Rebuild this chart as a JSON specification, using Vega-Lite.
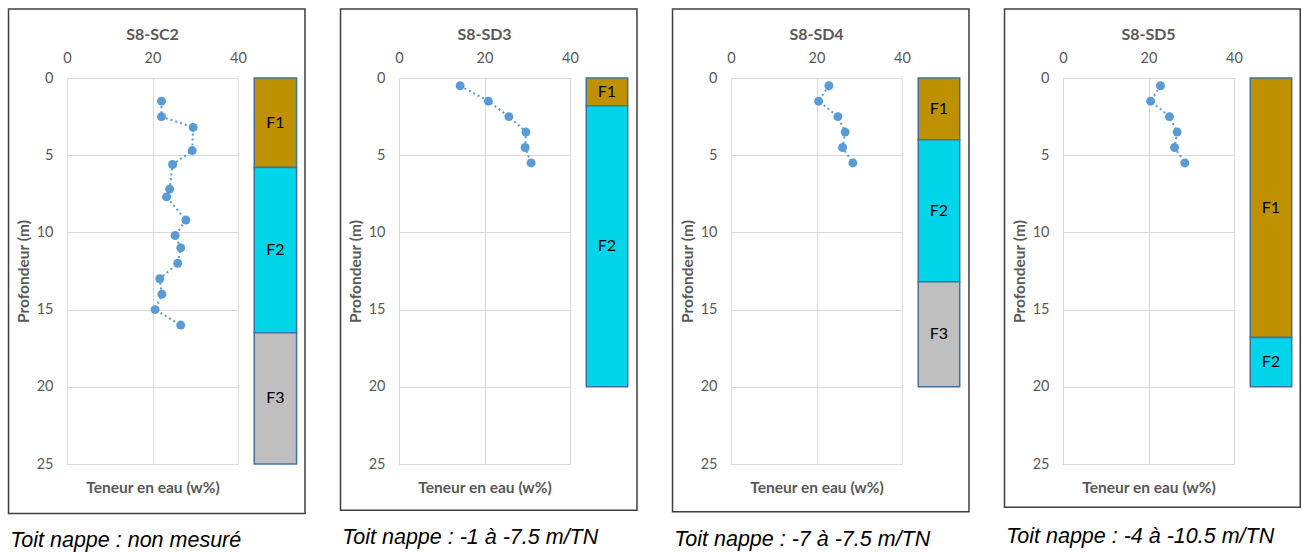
{
  "$schema": "https://vega.github.io/schema/vega-lite/v6.json",
  "autosize": {"type": "pad"},
  "padding": {"left": 7, "top": 7, "right": 0, "bottom": 0},
  "background": "white",
  "spacing": 32,
  "config": {
    "view": {"stroke": "#d9d9d9", "strokeWidth": 1},
    "font": "Lato",
    "axis": {
      "labelFont": "Lato", "labelFontSize": 14.5, "labelColor": "#595959",
      "titleFont": "Lato", "titleFontSize": 15.5, "titleFontWeight": "bold", "titleColor": "#595959",
      "gridColor": "#d9d9d9", "gridWidth": 1, "domain": false, "ticks": false, "labelFlush": false
    },
    "title": {"font": "Lato", "fontSize": 16, "fontWeight": "bold", "color": "#595959", "offset": 10, "dy": 45}
  },
  "datasets": {
    "pts": [
      {"hole": "S8-SC2", "depth": 1.5, "w": 22.1},
      {"hole": "S8-SC2", "depth": 2.5, "w": 22.1},
      {"hole": "S8-SC2", "depth": 3.2, "w": 29.5},
      {"hole": "S8-SC2", "depth": 4.7, "w": 29.3},
      {"hole": "S8-SC2", "depth": 5.6, "w": 24.7},
      {"hole": "S8-SC2", "depth": 7.2, "w": 24.0},
      {"hole": "S8-SC2", "depth": 7.7, "w": 23.3},
      {"hole": "S8-SC2", "depth": 9.2, "w": 27.8},
      {"hole": "S8-SC2", "depth": 10.2, "w": 25.3},
      {"hole": "S8-SC2", "depth": 11.0, "w": 26.6},
      {"hole": "S8-SC2", "depth": 12.0, "w": 25.9},
      {"hole": "S8-SC2", "depth": 13.0, "w": 21.7},
      {"hole": "S8-SC2", "depth": 14.0, "w": 22.2},
      {"hole": "S8-SC2", "depth": 15.0, "w": 20.6},
      {"hole": "S8-SC2", "depth": 16.0, "w": 26.6},
      {"hole": "S8-SD3", "depth": 0.5, "w": 14.3},
      {"hole": "S8-SD3", "depth": 1.5, "w": 20.9},
      {"hole": "S8-SD3", "depth": 2.5, "w": 25.7},
      {"hole": "S8-SD3", "depth": 3.5, "w": 29.7},
      {"hole": "S8-SD3", "depth": 4.5, "w": 29.5},
      {"hole": "S8-SD3", "depth": 5.5, "w": 30.9},
      {"hole": "S8-SD4", "depth": 0.5, "w": 22.9},
      {"hole": "S8-SD4", "depth": 1.5, "w": 20.5},
      {"hole": "S8-SD4", "depth": 2.5, "w": 25.0},
      {"hole": "S8-SD4", "depth": 3.5, "w": 26.7},
      {"hole": "S8-SD4", "depth": 4.5, "w": 26.1},
      {"hole": "S8-SD4", "depth": 5.5, "w": 28.5},
      {"hole": "S8-SD5", "depth": 0.5, "w": 22.8},
      {"hole": "S8-SD5", "depth": 1.5, "w": 20.5},
      {"hole": "S8-SD5", "depth": 2.5, "w": 24.9},
      {"hole": "S8-SD5", "depth": 3.5, "w": 26.7},
      {"hole": "S8-SD5", "depth": 4.5, "w": 26.1},
      {"hole": "S8-SD5", "depth": 5.5, "w": 28.5}
    ],
    "strata": [
      {"hole": "S8-SC2", "layer": "F1", "top": 0, "bottom": 5.8},
      {"hole": "S8-SC2", "layer": "F2", "top": 5.8, "bottom": 16.5},
      {"hole": "S8-SC2", "layer": "F3", "top": 16.5, "bottom": 25},
      {"hole": "S8-SD3", "layer": "F1", "top": 0, "bottom": 1.8},
      {"hole": "S8-SD3", "layer": "F2", "top": 1.8, "bottom": 20},
      {"hole": "S8-SD4", "layer": "F1", "top": 0, "bottom": 4.0},
      {"hole": "S8-SD4", "layer": "F2", "top": 4.0, "bottom": 13.2},
      {"hole": "S8-SD4", "layer": "F3", "top": 13.2, "bottom": 20},
      {"hole": "S8-SD5", "layer": "F1", "top": 0, "bottom": 16.8},
      {"hole": "S8-SD5", "layer": "F2", "top": 16.8, "bottom": 20}
    ],
    "captions": [
      {"hole": "S8-SC2", "caption": "Toit nappe : non mesuré"},
      {"hole": "S8-SD3", "caption": "Toit nappe : -1 à -7.5 m/TN"},
      {"hole": "S8-SD4", "caption": "Toit nappe : -7 à -7.5 m/TN"},
      {"hole": "S8-SD5", "caption": "Toit nappe : -4 à -10.5 m/TN"}
    ]
  },
  "hconcat": [
    {
      "width": 171, "height": 386,
      "title": {"text": "S8-SC2"},
      "resolve": {"axis": {"x": "independent", "y": "independent"}},
      "layer": [
        {
          "data": {"name": "captions"},
          "transform": [{"filter": "datum.hole === 'S8-SC2'"}],
          "mark": {"type": "rect", "filled": false, "stroke": "#3f3f3f", "strokeWidth": 1.5},
          "encoding": {
            "x": {"datum": -13.68, "type": "quantitative", "scale": {"domain": [0, 40], "nice": false, "zero": false},
                  "axis": {"orient": "bottom", "title": "Teneur en eau (w%)", "labels": false, "grid": false, "titlePadding": 16}},
            "x2": {"datum": 55.67},
            "y": {"datum": -4.47, "type": "quantitative", "scale": {"domain": [0, 25], "reverse": true, "nice": false, "zero": false}, "axis": null},
            "y2": {"datum": 28.2}
          }
        },
        {
          "data": {"name": "captions"},
          "transform": [{"filter": "datum.hole === 'S8-SC2'"}],
          "mark": {"type": "text", "align": "left", "baseline": "middle", "font": "Liberation Sans", "fontStyle": "italic", "fontSize": 21.5, "color": "#000000"},
          "encoding": {
            "x": {"datum": -13.3, "type": "quantitative", "scale": {"domain": [0, 40], "nice": false, "zero": false}, "axis": null},
            "y": {"datum": 30.0, "type": "quantitative", "scale": {"domain": [0, 25], "reverse": true, "nice": false, "zero": false}, "axis": null},
            "text": {"field": "caption"}
          }
        },
        {
          "data": {"name": "strata"},
          "transform": [{"filter": "datum.hole === 'S8-SC2'"}],
          "mark": {"type": "rect", "stroke": "#41719c", "strokeWidth": 1.5},
          "encoding": {
            "x": {"datum": 43.8, "type": "quantitative", "scale": {"domain": [0, 40], "nice": false, "zero": false}, "axis": null},
            "x2": {"datum": 53.7},
            "y": {"field": "top", "type": "quantitative", "scale": {"domain": [0, 25], "reverse": true, "nice": false, "zero": false}, "axis": null},
            "y2": {"field": "bottom"},
            "color": {"field": "layer", "type": "nominal", "scale": {"domain": ["F1", "F2", "F3"], "range": ["#bf9000", "#00d5ea", "#bfbfbf"]}, "legend": null}
          }
        },
        {
          "data": {"name": "strata"},
          "transform": [{"filter": "datum.hole === 'S8-SC2'"}, {"calculate": "(datum.top + datum.bottom) / 2", "as": "mid"}],
          "mark": {"type": "text", "fontSize": 16, "font": "Lato", "color": "#000000", "baseline": "middle"},
          "encoding": {
            "x": {"datum": 48.75, "type": "quantitative", "scale": {"domain": [0, 40], "nice": false, "zero": false}, "axis": null},
            "y": {"field": "mid", "type": "quantitative", "scale": {"domain": [0, 25], "reverse": true, "nice": false, "zero": false}, "axis": null},
            "text": {"field": "layer"}
          }
        },
        {
          "data": {"name": "pts"},
          "transform": [{"filter": "datum.hole === 'S8-SC2'"}],
          "mark": {"type": "line", "color": "#5b9bd5", "strokeWidth": 2, "strokeDash": [2, 3]},
          "encoding": {
            "x": {"field": "w", "type": "quantitative", "scale": {"domain": [0, 40], "nice": false, "zero": false},
                  "axis": {"orient": "top", "values": [0, 20, 40], "grid": true, "title": null, "labelPadding": 13}},
            "y": {"field": "depth", "type": "quantitative", "scale": {"domain": [0, 25], "reverse": true, "nice": false, "zero": false},
                  "axis": {"orient": "left", "values": [0, 5, 10, 15, 20, 25], "grid": true, "title": "Profondeur (m)", "labelPadding": 14, "titlePadding": 5}},
            "order": {"field": "depth", "type": "quantitative"}
          }
        },
        {
          "data": {"name": "pts"},
          "transform": [{"filter": "datum.hole === 'S8-SC2'"}],
          "mark": {"type": "circle", "color": "#5b9bd5", "size": 80, "opacity": 1},
          "encoding": {
            "x": {"field": "w", "type": "quantitative", "scale": {"domain": [0, 40], "nice": false, "zero": false}, "axis": null},
            "y": {"field": "depth", "type": "quantitative", "scale": {"domain": [0, 25], "reverse": true, "nice": false, "zero": false}, "axis": null}
          }
        }
      ]
    },
    {
      "width": 171, "height": 386,
      "title": {"text": "S8-SD3"},
      "resolve": {"axis": {"x": "independent", "y": "independent"}},
      "layer": [
        {
          "data": {"name": "captions"},
          "transform": [{"filter": "datum.hole === 'S8-SD3'"}],
          "mark": {"type": "rect", "filled": false, "stroke": "#3f3f3f", "strokeWidth": 1.5},
          "encoding": {
            "x": {"datum": -13.68, "type": "quantitative", "scale": {"domain": [0, 40], "nice": false, "zero": false},
                  "axis": {"orient": "bottom", "title": "Teneur en eau (w%)", "labels": false, "grid": false, "titlePadding": 16}},
            "x2": {"datum": 55.67},
            "y": {"datum": -4.47, "type": "quantitative", "scale": {"domain": [0, 25], "reverse": true, "nice": false, "zero": false}, "axis": null},
            "y2": {"datum": 28.0}
          }
        },
        {
          "data": {"name": "captions"},
          "transform": [{"filter": "datum.hole === 'S8-SD3'"}],
          "mark": {"type": "text", "align": "left", "baseline": "middle", "font": "Liberation Sans", "fontStyle": "italic", "fontSize": 21.5, "color": "#000000"},
          "encoding": {
            "x": {"datum": -13.3, "type": "quantitative", "scale": {"domain": [0, 40], "nice": false, "zero": false}, "axis": null},
            "y": {"datum": 29.8, "type": "quantitative", "scale": {"domain": [0, 25], "reverse": true, "nice": false, "zero": false}, "axis": null},
            "text": {"field": "caption"}
          }
        },
        {
          "data": {"name": "strata"},
          "transform": [{"filter": "datum.hole === 'S8-SD3'"}],
          "mark": {"type": "rect", "stroke": "#41719c", "strokeWidth": 1.5},
          "encoding": {
            "x": {"datum": 43.8, "type": "quantitative", "scale": {"domain": [0, 40], "nice": false, "zero": false}, "axis": null},
            "x2": {"datum": 53.5},
            "y": {"field": "top", "type": "quantitative", "scale": {"domain": [0, 25], "reverse": true, "nice": false, "zero": false}, "axis": null},
            "y2": {"field": "bottom"},
            "color": {"field": "layer", "type": "nominal", "scale": {"domain": ["F1", "F2", "F3"], "range": ["#bf9000", "#00d5ea", "#bfbfbf"]}, "legend": null}
          }
        },
        {
          "data": {"name": "strata"},
          "transform": [{"filter": "datum.hole === 'S8-SD3'"}, {"calculate": "(datum.top + datum.bottom) / 2", "as": "mid"}],
          "mark": {"type": "text", "fontSize": 16, "font": "Lato", "color": "#000000", "baseline": "middle"},
          "encoding": {
            "x": {"datum": 48.65, "type": "quantitative", "scale": {"domain": [0, 40], "nice": false, "zero": false}, "axis": null},
            "y": {"field": "mid", "type": "quantitative", "scale": {"domain": [0, 25], "reverse": true, "nice": false, "zero": false}, "axis": null},
            "text": {"field": "layer"}
          }
        },
        {
          "data": {"name": "pts"},
          "transform": [{"filter": "datum.hole === 'S8-SD3'"}],
          "mark": {"type": "line", "color": "#5b9bd5", "strokeWidth": 2, "strokeDash": [2, 3]},
          "encoding": {
            "x": {"field": "w", "type": "quantitative", "scale": {"domain": [0, 40], "nice": false, "zero": false},
                  "axis": {"orient": "top", "values": [0, 20, 40], "grid": true, "title": null, "labelPadding": 13}},
            "y": {"field": "depth", "type": "quantitative", "scale": {"domain": [0, 25], "reverse": true, "nice": false, "zero": false},
                  "axis": {"orient": "left", "values": [0, 5, 10, 15, 20, 25], "grid": true, "title": "Profondeur (m)", "labelPadding": 14, "titlePadding": 5}},
            "order": {"field": "depth", "type": "quantitative"}
          }
        },
        {
          "data": {"name": "pts"},
          "transform": [{"filter": "datum.hole === 'S8-SD3'"}],
          "mark": {"type": "circle", "color": "#5b9bd5", "size": 80, "opacity": 1},
          "encoding": {
            "x": {"field": "w", "type": "quantitative", "scale": {"domain": [0, 40], "nice": false, "zero": false}, "axis": null},
            "y": {"field": "depth", "type": "quantitative", "scale": {"domain": [0, 25], "reverse": true, "nice": false, "zero": false}, "axis": null}
          }
        }
      ]
    },
    {
      "width": 171, "height": 386,
      "title": {"text": "S8-SD4"},
      "resolve": {"axis": {"x": "independent", "y": "independent"}},
      "layer": [
        {
          "data": {"name": "captions"},
          "transform": [{"filter": "datum.hole === 'S8-SD4'"}],
          "mark": {"type": "rect", "filled": false, "stroke": "#3f3f3f", "strokeWidth": 1.5},
          "encoding": {
            "x": {"datum": -13.68, "type": "quantitative", "scale": {"domain": [0, 40], "nice": false, "zero": false},
                  "axis": {"orient": "bottom", "title": "Teneur en eau (w%)", "labels": false, "grid": false, "titlePadding": 16}},
            "x2": {"datum": 55.67},
            "y": {"datum": -4.47, "type": "quantitative", "scale": {"domain": [0, 25], "reverse": true, "nice": false, "zero": false}, "axis": null},
            "y2": {"datum": 28.1}
          }
        },
        {
          "data": {"name": "captions"},
          "transform": [{"filter": "datum.hole === 'S8-SD4'"}],
          "mark": {"type": "text", "align": "left", "baseline": "middle", "font": "Liberation Sans", "fontStyle": "italic", "fontSize": 21.5, "color": "#000000"},
          "encoding": {
            "x": {"datum": -13.3, "type": "quantitative", "scale": {"domain": [0, 40], "nice": false, "zero": false}, "axis": null},
            "y": {"datum": 29.9, "type": "quantitative", "scale": {"domain": [0, 25], "reverse": true, "nice": false, "zero": false}, "axis": null},
            "text": {"field": "caption"}
          }
        },
        {
          "data": {"name": "strata"},
          "transform": [{"filter": "datum.hole === 'S8-SD4'"}],
          "mark": {"type": "rect", "stroke": "#41719c", "strokeWidth": 1.5},
          "encoding": {
            "x": {"datum": 43.8, "type": "quantitative", "scale": {"domain": [0, 40], "nice": false, "zero": false}, "axis": null},
            "x2": {"datum": 53.5},
            "y": {"field": "top", "type": "quantitative", "scale": {"domain": [0, 25], "reverse": true, "nice": false, "zero": false}, "axis": null},
            "y2": {"field": "bottom"},
            "color": {"field": "layer", "type": "nominal", "scale": {"domain": ["F1", "F2", "F3"], "range": ["#bf9000", "#00d5ea", "#bfbfbf"]}, "legend": null}
          }
        },
        {
          "data": {"name": "strata"},
          "transform": [{"filter": "datum.hole === 'S8-SD4'"}, {"calculate": "(datum.top + datum.bottom) / 2", "as": "mid"}],
          "mark": {"type": "text", "fontSize": 16, "font": "Lato", "color": "#000000", "baseline": "middle"},
          "encoding": {
            "x": {"datum": 48.65, "type": "quantitative", "scale": {"domain": [0, 40], "nice": false, "zero": false}, "axis": null},
            "y": {"field": "mid", "type": "quantitative", "scale": {"domain": [0, 25], "reverse": true, "nice": false, "zero": false}, "axis": null},
            "text": {"field": "layer"}
          }
        },
        {
          "data": {"name": "pts"},
          "transform": [{"filter": "datum.hole === 'S8-SD4'"}],
          "mark": {"type": "line", "color": "#5b9bd5", "strokeWidth": 2, "strokeDash": [2, 3]},
          "encoding": {
            "x": {"field": "w", "type": "quantitative", "scale": {"domain": [0, 40], "nice": false, "zero": false},
                  "axis": {"orient": "top", "values": [0, 20, 40], "grid": true, "title": null, "labelPadding": 13}},
            "y": {"field": "depth", "type": "quantitative", "scale": {"domain": [0, 25], "reverse": true, "nice": false, "zero": false},
                  "axis": {"orient": "left", "values": [0, 5, 10, 15, 20, 25], "grid": true, "title": "Profondeur (m)", "labelPadding": 14, "titlePadding": 5}},
            "order": {"field": "depth", "type": "quantitative"}
          }
        },
        {
          "data": {"name": "pts"},
          "transform": [{"filter": "datum.hole === 'S8-SD4'"}],
          "mark": {"type": "circle", "color": "#5b9bd5", "size": 80, "opacity": 1},
          "encoding": {
            "x": {"field": "w", "type": "quantitative", "scale": {"domain": [0, 40], "nice": false, "zero": false}, "axis": null},
            "y": {"field": "depth", "type": "quantitative", "scale": {"domain": [0, 25], "reverse": true, "nice": false, "zero": false}, "axis": null}
          }
        }
      ]
    },
    {
      "width": 171, "height": 386,
      "title": {"text": "S8-SD5"},
      "resolve": {"axis": {"x": "independent", "y": "independent"}},
      "layer": [
        {
          "data": {"name": "captions"},
          "transform": [{"filter": "datum.hole === 'S8-SD5'"}],
          "mark": {"type": "rect", "filled": false, "stroke": "#3f3f3f", "strokeWidth": 1.5},
          "encoding": {
            "x": {"datum": -13.68, "type": "quantitative", "scale": {"domain": [0, 40], "nice": false, "zero": false},
                  "axis": {"orient": "bottom", "title": "Teneur en eau (w%)", "labels": false, "grid": false, "titlePadding": 16}},
            "x2": {"datum": 55.5},
            "y": {"datum": -4.47, "type": "quantitative", "scale": {"domain": [0, 25], "reverse": true, "nice": false, "zero": false}, "axis": null},
            "y2": {"datum": 27.8}
          }
        },
        {
          "data": {"name": "captions"},
          "transform": [{"filter": "datum.hole === 'S8-SD5'"}],
          "mark": {"type": "text", "align": "left", "baseline": "middle", "font": "Liberation Sans", "fontStyle": "italic", "fontSize": 21.5, "color": "#000000"},
          "encoding": {
            "x": {"datum": -13.3, "type": "quantitative", "scale": {"domain": [0, 40], "nice": false, "zero": false}, "axis": null},
            "y": {"datum": 29.7, "type": "quantitative", "scale": {"domain": [0, 25], "reverse": true, "nice": false, "zero": false}, "axis": null},
            "text": {"field": "caption"}
          }
        },
        {
          "data": {"name": "strata"},
          "transform": [{"filter": "datum.hole === 'S8-SD5'"}],
          "mark": {"type": "rect", "stroke": "#41719c", "strokeWidth": 1.5},
          "encoding": {
            "x": {"datum": 43.8, "type": "quantitative", "scale": {"domain": [0, 40], "nice": false, "zero": false}, "axis": null},
            "x2": {"datum": 53.5},
            "y": {"field": "top", "type": "quantitative", "scale": {"domain": [0, 25], "reverse": true, "nice": false, "zero": false}, "axis": null},
            "y2": {"field": "bottom"},
            "color": {"field": "layer", "type": "nominal", "scale": {"domain": ["F1", "F2", "F3"], "range": ["#bf9000", "#00d5ea", "#bfbfbf"]}, "legend": null}
          }
        },
        {
          "data": {"name": "strata"},
          "transform": [{"filter": "datum.hole === 'S8-SD5'"}, {"calculate": "(datum.top + datum.bottom) / 2", "as": "mid"}],
          "mark": {"type": "text", "fontSize": 16, "font": "Lato", "color": "#000000", "baseline": "middle"},
          "encoding": {
            "x": {"datum": 48.65, "type": "quantitative", "scale": {"domain": [0, 40], "nice": false, "zero": false}, "axis": null},
            "y": {"field": "mid", "type": "quantitative", "scale": {"domain": [0, 25], "reverse": true, "nice": false, "zero": false}, "axis": null},
            "text": {"field": "layer"}
          }
        },
        {
          "data": {"name": "pts"},
          "transform": [{"filter": "datum.hole === 'S8-SD5'"}],
          "mark": {"type": "line", "color": "#5b9bd5", "strokeWidth": 2, "strokeDash": [2, 3]},
          "encoding": {
            "x": {"field": "w", "type": "quantitative", "scale": {"domain": [0, 40], "nice": false, "zero": false},
                  "axis": {"orient": "top", "values": [0, 20, 40], "grid": true, "title": null, "labelPadding": 13}},
            "y": {"field": "depth", "type": "quantitative", "scale": {"domain": [0, 25], "reverse": true, "nice": false, "zero": false},
                  "axis": {"orient": "left", "values": [0, 5, 10, 15, 20, 25], "grid": true, "title": "Profondeur (m)", "labelPadding": 14, "titlePadding": 5}},
            "order": {"field": "depth", "type": "quantitative"}
          }
        },
        {
          "data": {"name": "pts"},
          "transform": [{"filter": "datum.hole === 'S8-SD5'"}],
          "mark": {"type": "circle", "color": "#5b9bd5", "size": 80, "opacity": 1},
          "encoding": {
            "x": {"field": "w", "type": "quantitative", "scale": {"domain": [0, 40], "nice": false, "zero": false}, "axis": null},
            "y": {"field": "depth", "type": "quantitative", "scale": {"domain": [0, 25], "reverse": true, "nice": false, "zero": false}, "axis": null}
          }
        }
      ]
    }
  ]
}
